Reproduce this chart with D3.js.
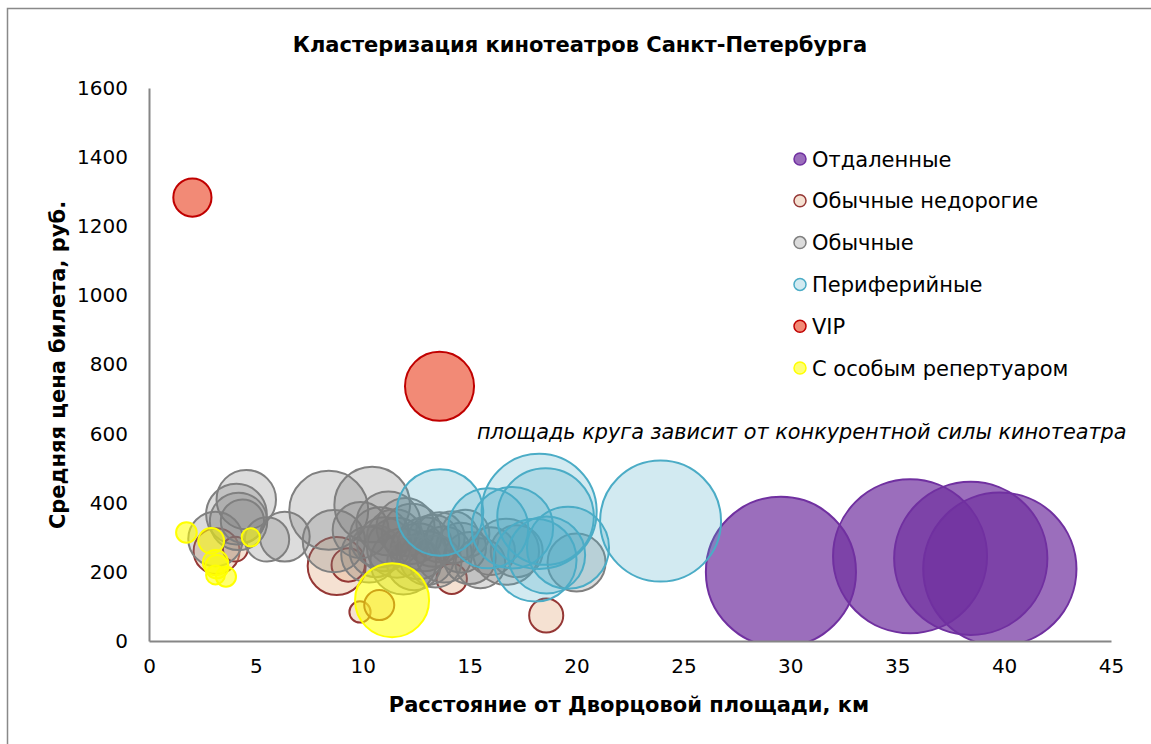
<!DOCTYPE html>
<html>
<head>
<meta charset="utf-8">
<script src="https://cdn.jsdelivr.net/npm/d3@7"></script>
<style>
  body { margin: 0; background: #fff; }
  text { font-family: Verdana, "DejaVu Sans", sans-serif; fill: #000; }
</style>
</head>
<body>
<div id="root"></div>
<script>
const width = 1151
const height = 744

// кластеры (порядок серий как в исходной диаграмме)
const clusterNames = ['Отдаленные', 'Обычные недорогие', 'Обычные', 'Периферийные', 'VIP', 'С особым репертуаром']

// расстояние, км / средняя цена, руб. / конкурентная сила
const farDist = [29.56, 35.6, 38.44, 39.8]
const farPrice = [200, 245, 239, 208]
const farPower = [95, 100, 99, 99]

const cheapDist = [3.16, 4.04, 8.78, 9.32, 9.87, 10.77, 14.16, 18.58]
const cheapPrice = [260, 266, 217, 220, 84, 104, 180, 74]
const cheapPower = [8.9, 2.6, 14.2, 4.7, 1.9, 3.8, 3.9, 4.9]

const usualDist = [4.55, 4.09, 4.19, 4.37, 3.11, 5.52, 6.35, 8.41, 10.44, 8.65, 9.9, 10.3, 10.8, 11.2, 11.6, 11.9, 12.3, 12.6, 13.0, 13.3, 13.8, 14.2, 14.6, 15.0, 15.5, 16.0, 16.7, 17.2, 20.0, 11.0, 12.0, 12.9, 13.6, 14.8, 10.6, 11.5, 12.4, 13.4]
const usualPrice = [409, 367, 346, 347, 295, 294, 302, 378, 395, 289, 321, 250, 300, 340, 270, 230, 310, 260, 240, 290, 250, 300, 270, 240, 225, 260, 258, 260, 227, 280, 330, 280, 300, 310, 260, 300, 225, 230]
const usualPower = [14.9, 15.5, 13.9, 7.9, 12.5, 8.3, 10.5, 26.3, 24.1, 16.4, 13.2, 13.2, 15.2, 17.3, 15.2, 18.4, 15.2, 13.2, 12.3, 11.4, 13.2, 11.4, 10.5, 11.4, 10.5, 9.7, 18.4, 11.4, 14.2, 12.3, 14.2, 12.3, 10.5, 9.7, 11.4, 13.2, 12.3, 11.4]

const periDist = [13.61, 15.87, 17.0, 18.25, 18.55, 18.06, 18.6, 19.6, 23.93]
const periPrice = [372, 326, 328, 375, 360, 234, 249, 270, 347]
const periPower = [31.6, 27, 28, 55.8, 39.3, 29, 25, 28.4, 61.7]

const vipDist = [2.03, 13.59]
const vipPrice = [1283, 737]
const vipPower = [6.15, 20.1]

const specDist = [1.75, 2.91, 4.76, 3.11, 3.17, 3.11, 3.6, 11.37]
const specPrice = [314, 290, 300, 227, 215, 191, 186, 118]
const specPower = [1.8, 2.8, 1.4, 2.7, 2.3, 1.5, 1.7, 23.1]

const xTicks = [0, 5, 10, 15, 20, 25, 30, 35, 40, 45]
const yTicks = [0, 200, 400, 600, 800, 1000, 1200, 1400, 1600]

const styles = [
  { fill: '#7030A0', fillOpacity: 0.7, stroke: '#7030A0' },
  { fill: '#E6B48F', fillOpacity: 0.4, stroke: '#953735' },
  { fill: '#7F7F7F', fillOpacity: 0.27, stroke: '#808080' },
  { fill: '#4BACC6', fillOpacity: 0.25, stroke: '#4BACC6' },
  { fill: '#F28A76', fillOpacity: 1, stroke: '#C00000' },
  { fill: '#FFFF00', fillOpacity: 0.55, stroke: '#FFFF00' }
]

const columns = [
  [farDist, farPrice, farPower],
  [cheapDist, cheapPrice, cheapPower],
  [usualDist, usualPrice, usualPower],
  [periDist, periPrice, periPower],
  [vipDist, vipPrice, vipPower],
  [specDist, specPrice, specPower]
]

const series = clusterNames.map((name, i) => {
  const [xs, ys, ss] = columns[i]
  return {
    name,
    style: styles[i],
    points: xs.map((x, j) => ({ x, y: ys[j], s: ss[j] }))
  }
})

const plot = { left: 149, right: 1111, top: 88, bottom: 641 }

const x = d3.scaleLinear().domain([0, 45]).range([plot.left, plot.right])
const y = d3.scaleLinear().domain([0, 1600]).range([plot.bottom, plot.top])
const allPower = series.flatMap(s => s.points.map(p => p.s))
const r = d3.scaleSqrt().domain([0, d3.max(allPower)]).range([0, 77])

const svg = d3.select('#root').append('svg')
  .attr('width', width)
  .attr('height', height)

// рамка диаграммы
svg.append('rect')
  .attr('x', 7.5)
  .attr('y', 8.5)
  .attr('width', 1160)
  .attr('height', 760)
  .attr('fill', '#fff')
  .attr('stroke', '#898989')
  .attr('stroke-width', 1.5)

svg.append('defs').append('clipPath')
  .attr('id', 'plotclip')
  .append('rect')
  .attr('x', plot.left)
  .attr('y', plot.top)
  .attr('width', plot.right - plot.left)
  .attr('height', plot.bottom - plot.top)

svg.append('text')
  .attr('x', 580)
  .attr('y', 52)
  .attr('text-anchor', 'middle')
  .style('font-size', '21px')
  .style('font-weight', 'bold')
  .text('Кластеризация кинотеатров Санкт-Петербурга')

// пузыри
const bubbles = svg.append('g').attr('clip-path', 'url(#plotclip)')

series.forEach(s => {
  bubbles.append('g')
    .selectAll('circle')
    .data(s.points)
    .enter().append('circle')
      .attr('cx', d => x(d.x))
      .attr('cy', d => y(d.y))
      .attr('r', d => r(d.s))
      .attr('fill', s.style.fill)
      .attr('fill-opacity', s.style.fillOpacity)
      .attr('stroke', s.style.stroke)
      .attr('stroke-width', 2)
})

// оси
const xAxis = svg.append('g')
  .attr('transform', `translate(0,${plot.bottom})`)
  .call(d3.axisBottom(x).tickValues(xTicks).tickSize(0).tickPadding(18))
xAxis.select('.domain').attr('stroke', '#868686').attr('stroke-width', 2)
xAxis.selectAll('text').style('font-size', '20px').attr('fill', '#000')

const yAxis = svg.append('g')
  .attr('transform', `translate(${plot.left},0)`)
  .call(d3.axisLeft(y).tickValues(yTicks).tickFormat(d3.format('d')).tickSize(0).tickPadding(21))
yAxis.select('.domain').attr('stroke', '#868686').attr('stroke-width', 2)
yAxis.selectAll('text').style('font-size', '20px').attr('fill', '#000')

svg.append('text')
  .attr('x', 629)
  .attr('y', 712)
  .attr('text-anchor', 'middle')
  .style('font-size', '21px')
  .style('font-weight', 'bold')
  .text('Расстояние от Дворцовой площади, км')

svg.append('text')
  .attr('transform', 'translate(65,365) rotate(-90)')
  .attr('text-anchor', 'middle')
  .style('font-size', '21px')
  .style('font-weight', 'bold')
  .text('Средняя цена билета, руб.')

svg.append('text')
  .attr('x', 477)
  .attr('y', 439)
  .style('font-size', '20.8px')
  .style('font-style', 'italic')
  .text('площадь круга зависит от конкурентной силы кинотеатра')

// легенда
const legend = svg.append('g')
  .selectAll('g')
  .data(series)
  .enter().append('g')
    .attr('transform', (d, i) => `translate(800,${159 + i * 41.8})`)

legend.append('circle')
  .attr('r', 6)
  .attr('fill', d => d.style.fill)
  .attr('fill-opacity', d => d.style.fillOpacity)
  .attr('stroke', d => d.style.stroke)
  .attr('stroke-width', 1.5)

legend.append('text')
  .attr('x', 12)
  .attr('y', 7.5)
  .style('font-size', '21px')
  .text(d => d.name)
</script>
</body>
</html>
